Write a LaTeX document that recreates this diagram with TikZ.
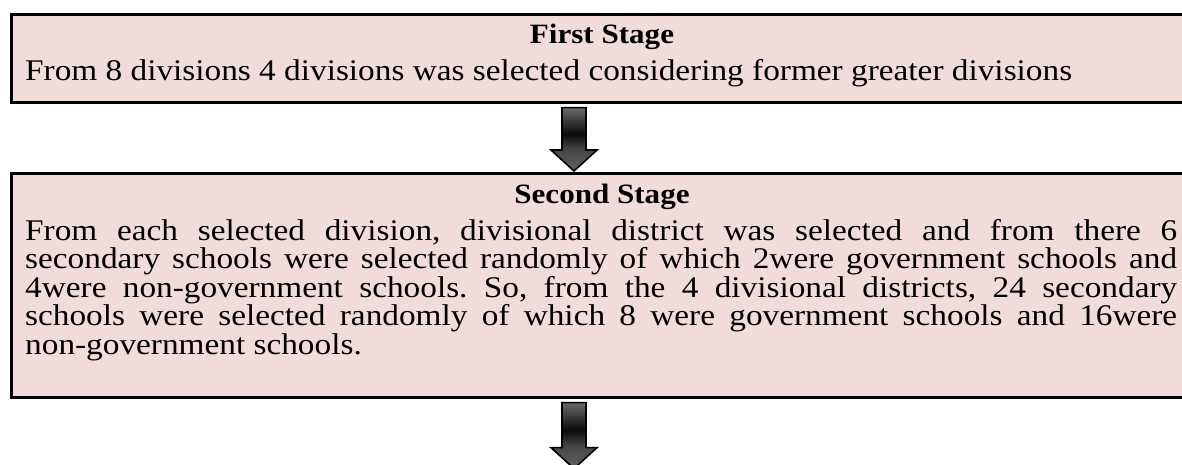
\documentclass[tikz,border=0pt]{standalone}
\usepackage{xcolor}
\usepackage{fontspec}
\setmainfont[FakeStretch=1.11]{Liberation Serif}
\usepackage{tikz}
\usetikzlibrary{calc,positioning}
\definecolor{stagepink}{RGB}{242,220,219}
\pgfdeclareverticalshading{arrowshade}{100bp}{color(0bp)=(black!62); color(25bp)=(black!62);
  color(42bp)=(black!72); color(54bp)=(black!96); color(62bp)=(black!82); color(75bp)=(black!58); color(100bp)=(black!58)}
\newcommand{\arrowpath}[2]{($(#1)+(-12,0)$) -- ($(#1)+(12,0)$) -- ($(#2)+(12,-21)$) -- ($(#2)+(23,-21)$)
  -- (#2) -- ($(#2)+(-23,-21)$) -- ($(#2)+(-12,-21)$) -- cycle}
\newcommand{\stagearrow}[2]{
\begin{scope}[shift={(5,3)}]
\fill[gray!45] \arrowpath{#1}{#2};
\end{scope}
\shade[shading=arrowshade, draw=black, line width=1.6pt, line join=miter] \arrowpath{#1}{#2};
}
\frenchspacing

\begin{document}
\begin{tikzpicture}[x=1pt, y=-1pt,
                          stagebox/.style={draw=black, line width=2.6pt, fill=stagepink, inner sep=0pt,
                                           minimum width=1190pt, anchor=north west},
                          stagetitle/.style={inner sep=0pt, anchor=base, font=\fontsize{28}{28.5}\selectfont\bfseries},
                          stagetext/.style={inner sep=0pt, anchor=base west, font=\fontsize{30}{28.5}\selectfont},
                         ]

\useasboundingbox (0,0) rectangle (1182,464);
\clip (0,0) rectangle (1182,464);

% first stage
\node[stagebox, minimum height=88pt] (first) at (10,13) {};
\node[stagetitle] (firsttitle) at (602,43) {First Stage};
\node[stagetext] (firsttext) at (25,80) {From 8 divisions 4 divisions was selected considering former greater divisions};

% second stage
\node[stagebox, minimum height=224pt] (second) at (10,172) {};
\node[stagetitle] (secondtitle) at (602,203) {Second Stage};
\node[stagetext, text width=1152pt, align=justify] (secondtext) at (25,240) {\hyphenpenalty=10000
From each selected division, divisional district was selected and from there 6\linebreak
secondary schools were selected randomly of which 2were government schools and\linebreak
4were non-government schools. So, from the 4 divisional districts, 24 secondary\linebreak
schools were selected randomly of which 8 were government schools and 16were\linebreak
non-government schools.};

% arrows
\coordinate (a1) at ($(first.south -| 574,0)+(0,4)$);
\coordinate (b1) at ($(second.north -| 574,0)+(0,-1)$);
\coordinate (a2) at ($(second.south -| 574,0)+(0,4)$);
\coordinate (b2) at ($(a2)+(0,66)$);

\stagearrow{a1}{b1}
\stagearrow{a2}{b2}

\end{tikzpicture}
\end{document}
